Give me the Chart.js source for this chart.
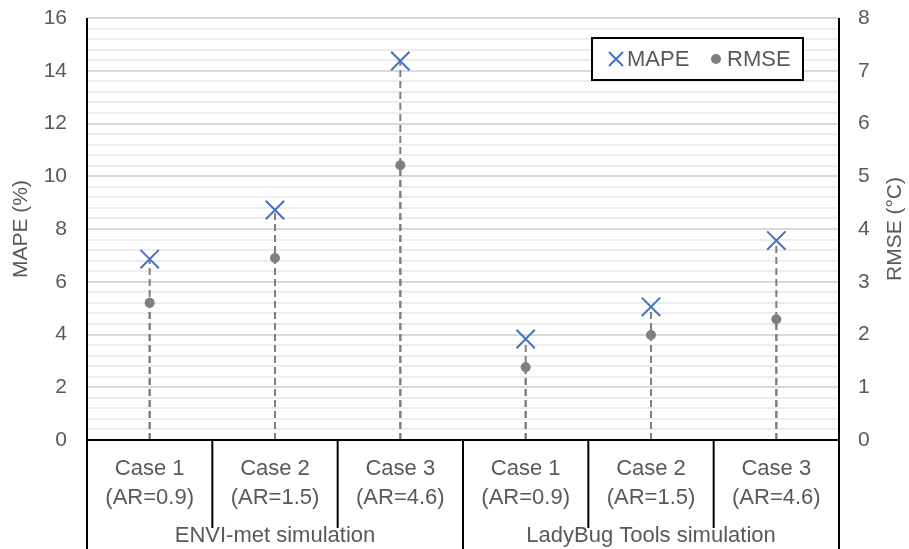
<!DOCTYPE html>
<html>
<head>
<meta charset="utf-8">
<script src="https://cdn.jsdelivr.net/npm/chart.js@4.4.1/dist/chart.umd.min.js"></script>
<style>
  html, body { margin: 0; padding: 0; background: #fff; }
  #wrap { width: 909px; height: 549px; position: relative; }
</style>
</head>
<body>
<div id="wrap"><canvas id="errChart"></canvas></div>
<script>
// values
const caseLabels = [
  ["Case 1", "(AR=0.9)"], ["Case 2", "(AR=1.5)"], ["Case 3", "(AR=4.6)"],
  ["Case 1", "(AR=0.9)"], ["Case 2", "(AR=1.5)"], ["Case 3", "(AR=4.6)"]
];
const groupLabels = ["ENVI-met simulation", "LadyBug Tools simulation"];
const casesPerGroup = 3;
const mapeValues = [6.86, 8.72, 14.37, 3.83, 5.05, 7.56];
const rmseValues = [2.60, 3.45, 5.21, 1.38, 1.99, 2.29];

const FONT = "'Liberation Sans', Arial, sans-serif";
const GREY_TXT = "#595959";
const BLUE = "#4472C4";
const DOT = "#7F7F7F";

// dashed drop lines from each marker down to the x axis
const dropLines = {
  id: "dropLines",
  beforeDatasetsDraw(chart) {
    const ctx = chart.ctx;
    const bottom = chart.chartArea.bottom;
    ctx.save();
    ctx.strokeStyle = "#7F7F7F";
    ctx.lineWidth = 2;
    ctx.setLineDash([7, 4]);
    chart.data.datasets.forEach((ds, i) => {
      chart.getDatasetMeta(i).data.forEach((pt) => {
        ctx.beginPath();
        ctx.moveTo(pt.x, bottom);
        ctx.lineTo(pt.x, pt.y);
        ctx.stroke();
      });
    });
    ctx.restore();
  }
};

// axis frame, category separators, group labels, right title, legend
const frame = {
  id: "frame",
  afterDraw(chart) {
    const ctx = chart.ctx;
    const x = chart.scales.x;
    const area = chart.chartArea;
    const H = chart.height;
    const n = caseLabels.length;
    const bound = (i) => {
      if (i <= 0) return x.left;
      if (i >= n) return x.right;
      return (x.getPixelForValue(i - 1) + x.getPixelForValue(i)) / 2;
    };
    ctx.save();
    ctx.strokeStyle = "#000";
    ctx.lineWidth = 2;
    ctx.setLineDash([]);
    ctx.beginPath();
    ctx.moveTo(area.left, area.top); ctx.lineTo(area.left, H);
    ctx.moveTo(area.right, area.top); ctx.lineTo(area.right, H);
    ctx.moveTo(area.left, area.bottom); ctx.lineTo(area.right, area.bottom);
    for (let i = 1; i < n; i++) {
      const bx = bound(i);
      const end = i % casesPerGroup === 0 ? H : area.bottom + 88;
      ctx.moveTo(bx, area.bottom); ctx.lineTo(bx, end);
    }
    ctx.stroke();

    ctx.fillStyle = GREY_TXT;
    ctx.font = "22px " + FONT;
    ctx.textAlign = "center";
    ctx.textBaseline = "middle";
    groupLabels.forEach((g, gi) => {
      const cx = (bound(gi * casesPerGroup) + bound((gi + 1) * casesPerGroup)) / 2;
      ctx.fillText(g, cx, area.bottom + 96);
    });

    // right axis title, reading bottom to top
    ctx.font = "21px " + FONT;
    ctx.translate(895, (area.top + area.bottom) / 2);
    ctx.rotate(-Math.PI / 2);
    ctx.fillText("RMSE (°C)", 0, 0);
    ctx.restore();

    // legend box
    ctx.save();
    const bx = 592, by = 38, bw = 211, bh = 42;
    ctx.fillStyle = "#fff";
    ctx.fillRect(bx, by, bw, bh);
    ctx.strokeStyle = "#000";
    ctx.lineWidth = 2;
    ctx.strokeRect(bx, by, bw, bh);
    const cy = by + bh / 2;
    ctx.strokeStyle = BLUE;
    ctx.lineWidth = 2;
    ctx.beginPath();
    ctx.moveTo(609, cy - 7); ctx.lineTo(623, cy + 7);
    ctx.moveTo(623, cy - 7); ctx.lineTo(609, cy + 7);
    ctx.stroke();
    ctx.fillStyle = DOT;
    ctx.beginPath();
    ctx.arc(716, cy, 5, 0, Math.PI * 2);
    ctx.fill();
    ctx.fillStyle = GREY_TXT;
    ctx.font = "22px " + FONT;
    ctx.textAlign = "left";
    ctx.textBaseline = "middle";
    ctx.fillText(chart.data.datasets[0].label, 627, cy + 1);
    ctx.fillText(chart.data.datasets[1].label, 727, cy + 1);
    ctx.restore();
  }
};

new Chart(document.getElementById("errChart"), {
  type: "line",
  data: {
    labels: caseLabels,
    datasets: [
      {
        label: "MAPE",
        data: mapeValues,
        yAxisID: "y",
        showLine: false,
        pointStyle: "crossRot",
        pointRadius: 13,
        pointHoverRadius: 13,
        pointBorderWidth: 2,
        borderColor: BLUE,
        backgroundColor: BLUE
      },
      {
        label: "RMSE",
        data: rmseValues,
        yAxisID: "y1",
        showLine: false,
        pointStyle: "circle",
        pointRadius: 5,
        pointHoverRadius: 5,
        pointBorderWidth: 0,
        borderColor: DOT,
        backgroundColor: DOT
      }
    ]
  },
  options: {
    responsive: true,
    maintainAspectRatio: false,
    animation: false,
    layout: { padding: { top: 18, left: 0, right: 0, bottom: 0 } },
    plugins: { legend: { display: false }, tooltip: { enabled: false } },
    scales: {
      x: {
        type: "category",
        offset: true,
        grid: { display: false, drawTicks: false },
        border: { display: false },
        ticks: {
          color: GREY_TXT,
          font: { family: FONT, size: 22, lineHeight: "29px" },
          padding: 14,
          maxRotation: 0,
          autoSkip: false
        },
        afterFit(s) { s.height = 109; }
      },
      y: {
        position: "left",
        min: 0,
        max: 16,
        grid: {
          drawTicks: true,
          tickLength: 20,
          tickColor: "rgba(0,0,0,0)",
          color(c) {
            if (!c.tick) return "#EDEDED";
            return Math.round(c.tick.value * 10) % 20 === 0 ? "#D9D9D9" : "#EDEDED";
          },
          lineWidth: 2
        },
        border: { display: false },
        ticks: {
          stepSize: 0.4,
          autoSkip: false,
          padding: 0,
          color: GREY_TXT,
          font: { family: FONT, size: 21 },
          callback(v) {
            const r = Math.round(v * 10);
            return r % 20 === 0 ? String(r / 10) : "";
          }
        },
        title: {
          display: true,
          text: "MAPE (%)",
          color: GREY_TXT,
          font: { family: FONT, size: 21 },
          padding: { top: 9, bottom: 0 }
        },
        afterFit(s) { s.width = 87; }
      },
      y1: {
        position: "right",
        min: 0,
        max: 8,
        grid: {
          display: true,
          drawOnChartArea: false,
          drawTicks: true,
          tickLength: 19,
          tickColor: "rgba(0,0,0,0)"
        },
        border: { display: false },
        ticks: {
          stepSize: 1,
          padding: 0,
          color: GREY_TXT,
          font: { family: FONT, size: 21 }
        },
        afterFit(s) { s.width = 70; }
      }
    }
  },
  plugins: [dropLines, frame]
});
</script>
</body>
</html>
